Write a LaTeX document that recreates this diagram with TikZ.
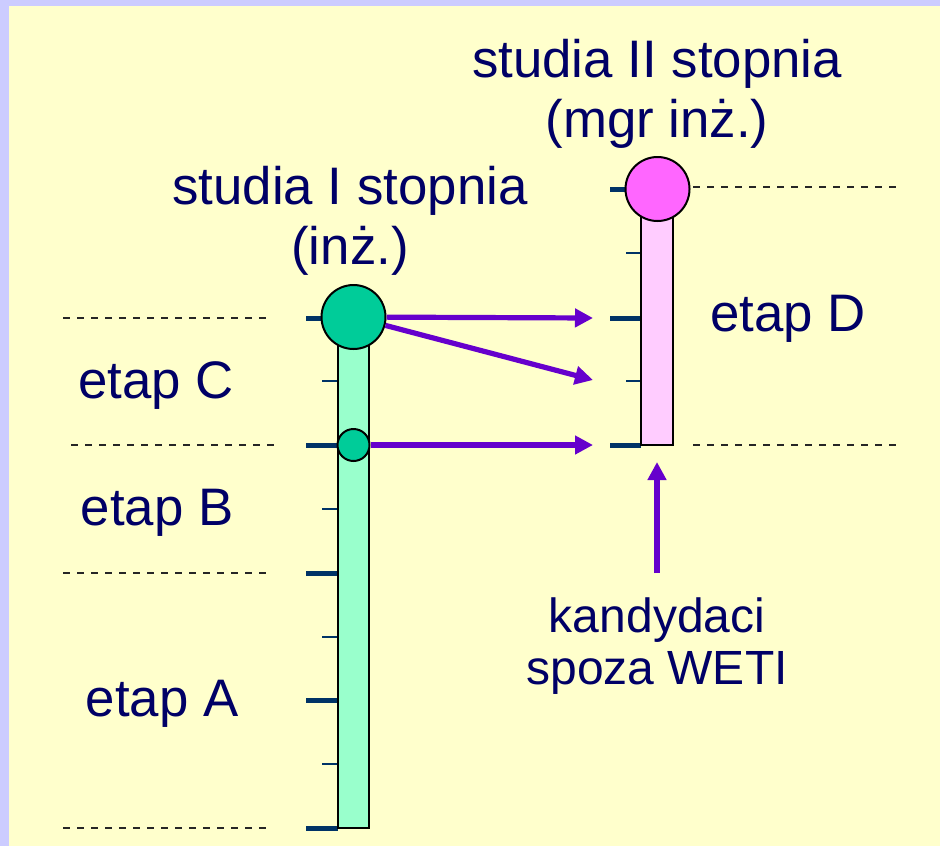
\documentclass[tikz,border=0pt]{standalone}
\usepackage{fontspec}
\setmainfont{Liberation Sans}
\usetikzlibrary{arrows.meta}

\definecolor{ramka}{HTML}{CCCCFF}
\definecolor{tlo}{HTML}{FFFFCC}
\definecolor{granat}{HTML}{000066}
\definecolor{podzialka}{HTML}{003366}
\definecolor{fiolet}{HTML}{6600CC}
\definecolor{zielony}{HTML}{00CC99}
\definecolor{jasnyziel}{HTML}{99FFCC}
\definecolor{rozowy}{HTML}{FF66FF}
\definecolor{jasnyroz}{HTML}{FFCCFF}

\tikzstyle{napis} = [text=granat, align=center, font=\fontsize{26.4}{30}\selectfont, inner sep=0pt]
\tikzstyle{kropka} = [circle, draw=black, line width=1pt, inner sep=0pt]
\tikzstyle{slupek} = [draw=black, line width=0.75pt]
\tikzstyle{duza} = [podzialka, line width=2.5pt]
\tikzstyle{mala} = [podzialka, line width=1pt]
\tikzstyle{granica} = [black!85, line width=1.1pt, dash pattern=on 3.4pt off 3.6pt]
\tikzstyle{strzalka} = [fiolet, line width=2.6pt, -{Triangle[length=9pt,width=9pt]}]

\begin{document}
\begin{tikzpicture}[x=0.5pt, y=-0.5pt]
%tlo
\fill[ramka] (0,0) rectangle (940,846);
\fill[tlo] (9,6) rectangle (940,846);
%granice etapow
\draw[granica] (63,318) -- (270,318);
\draw[granica] (71,445) -- (275,445);
\draw[granica] (63,573) -- (270,573);
\draw[granica] (63,828) -- (270,828);
\draw[granica] (693,187) -- (900,187);
\draw[granica] (693,445) -- (900,445);
%begin slupek I stopnia
\foreach \y in {318,445,573,700,828}
    \draw[duza] (306,\y) -- (338,\y);
\foreach \y in {381,509,637,764}
    \draw[mala] (322,\y) -- (338,\y);
\filldraw[slupek, fill=jasnyziel] (338,318) rectangle (369,828);
\node[kropka, fill=zielony, minimum size=32pt] (inz) at (353.5,317) {};
\node[kropka, fill=zielony, minimum size=16pt] (inzB) at (353.5,445) {};
%end slupek I stopnia
%begin slupek II stopnia
\foreach \y in {189,318,445}
    \draw[duza] (610,\y) -- (641,\y);
\foreach \y in {253,381}
    \draw[mala] (626,\y) -- (641,\y);
\filldraw[slupek, fill=jasnyroz] (641,189) rectangle (673,445);
\node[kropka, fill=rozowy, minimum size=32pt] (mgr) at (657.5,189) {};
%end slupek II stopnia
%przejscia
\coordinate (wejD) at (593,318);
\coordinate (wejDs) at (593,380);
\coordinate (wejDd) at (593,445);
\coordinate (spoza) at (657,573);
\coordinate (dolD) at (657,462);
\draw[strzalka] (inz) -- (wejD);
\draw[strzalka] (inz) -- (wejDs);
\draw[strzalka] (inzB) -- (wejDd);
\draw[strzalka] (spoza) -- (dolD);
%napisy
\node[napis] (tII) at (657,94) {studia II stopnia\\(mgr inż.)};
\node[napis] (tI) at (350,221) {studia I stopnia\\(inż.)};
\node[napis] (eD) at (788,319) {etap D};
\node[napis] (eC) at (156,386) {etap C};
\node[napis] (eB) at (157,513) {etap B};
\node[napis] (eA) at (162,704) {etap A};
\node[napis, font=\fontsize{24}{26}\selectfont] (kand) at (657,646) {kandydaci\\spoza WETI};
\end{tikzpicture}
\end{document}
